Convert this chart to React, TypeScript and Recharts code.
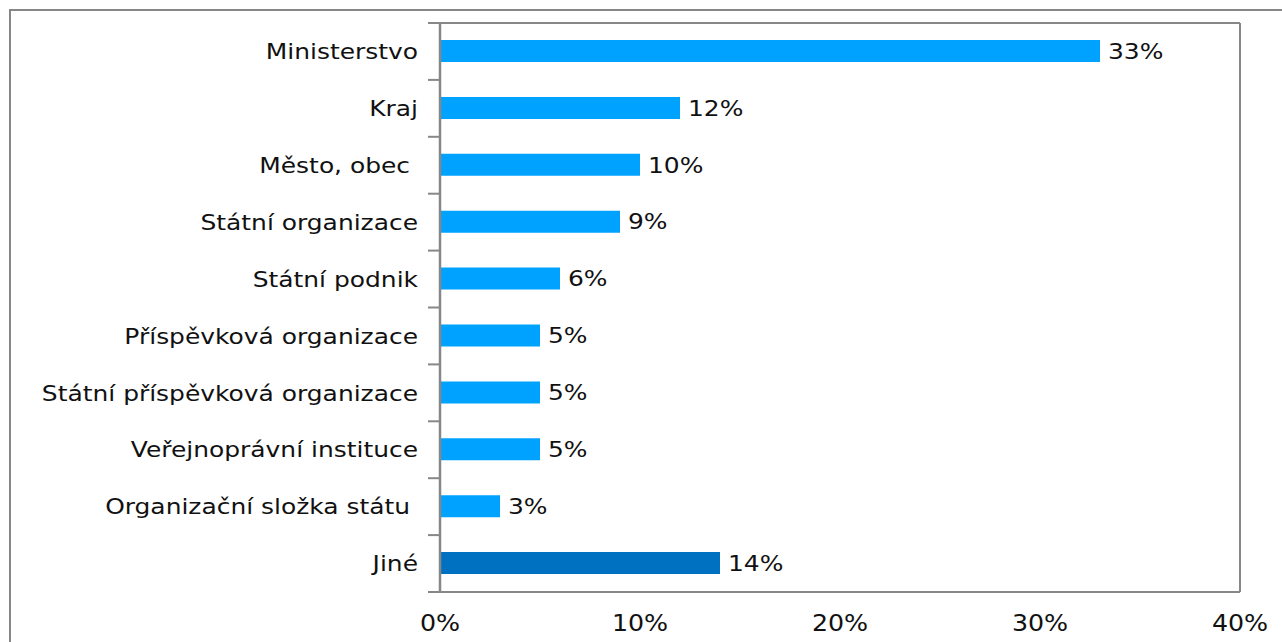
import React from 'react';
import { BarChart, Bar, XAxis, YAxis, Cell, LabelList, CartesianGrid } from 'recharts';

// categories top to bottom, values in percent
const categories = [
  'Ministerstvo',
  'Kraj',
  'Město, obec ',
  'Státní organizace',
  'Státní podnik',
  'Příspěvková organizace',
  'Státní příspěvková organizace',
  'Veřejnoprávní instituce',
  'Organizační složka státu ',
  'Jiné',
];
const values = [33, 12, 10, 9, 6, 5, 5, 5, 3, 14];
const xTicks = [0, 10, 20, 30, 40];

const data = categories.map((name, i) => ({ name, value: values[i] }));

const BAR = '#00a2ff';
const BAR_OTHER = '#0070c0';
const GRID = '#878787';
const FONT = '"DejaVu Sans", Verdana, sans-serif';
const STRETCH = 1.16; // source text looks horizontally stretched
const TICK_SIZE = 12;
const TICK_MARGIN = 10;

const CategoryTick = (props: any) => {
  const { x, y, payload, index } = props;
  const half = payload && payload.offset ? payload.offset : 28.45;
  const axisX = x + TICK_MARGIN + TICK_SIZE;
  return (
    <g>
      <line x1={axisX - TICK_SIZE} x2={axisX} y1={y - half} y2={y - half} stroke={GRID} strokeWidth={2} />
      {index === categories.length - 1 && (
        <line x1={axisX - TICK_SIZE} x2={axisX} y1={y + half} y2={y + half} stroke={GRID} strokeWidth={2} />
      )}
      <text
        transform={`translate(${x},${y}) scale(${STRETCH},1)`}
        textAnchor="end"
        dy="0.36em"
        fontFamily={FONT}
        fontSize={21.5}
        fill="#111"
        style={{ whiteSpace: 'pre' }}
      >
        {payload.value}
      </text>
    </g>
  );
};

const PercentTick = (props: any) => {
  const { x, y, payload } = props;
  return (
    <text
      transform={`translate(${x},${y}) scale(1.1,1)`}
      textAnchor="middle"
      dy="0.36em"
      fontFamily={FONT}
      fontSize={23}
      fill="#111"
    >
      {`${payload.value}%`}
    </text>
  );
};

const ValueLabel = (props: any) => {
  const { x, y, width, height, value } = props;
  return (
    <text
      transform={`translate(${x + width + 8},${y + height / 2}) scale(${STRETCH},1)`}
      dy="0.36em"
      fontFamily={FONT}
      fontSize={21.5}
      fill="#111"
    >
      {`${value}%`}
    </text>
  );
};

const App = () => {
  return (
    <div
      style={{
        position: 'fixed',
        left: 9,
        top: 9,
        width: 1271,
        height: 631,
        borderTop: `2px solid ${GRID}`,
        borderLeft: `2px solid ${GRID}`,
        background: '#fff',
      }}
    >
      <BarChart
        width={1271}
        height={631}
        data={data}
        layout="vertical"
        margin={{ top: 12, right: 41, left: 0, bottom: 0 }}
        barCategoryGap={0}
      >
        {/* top edge of the plot frame */}
        <CartesianGrid
          vertical={false}
          horizontalCoordinatesGenerator={({ offset }: any) => [offset.top]}
          stroke={GRID}
          strokeWidth={2}
          strokeDasharray=""
        />
        <XAxis
          type="number"
          domain={[0, 40]}
          ticks={xTicks}
          tickLine={false}
          tickSize={0}
          tickMargin={31}
          height={50}
          axisLine={{ stroke: GRID, strokeWidth: 2 }}
          tick={<PercentTick />}
          interval={0}
        />
        <YAxis
          type="category"
          dataKey="name"
          width={429}
          tickLine={false}
          tickSize={TICK_SIZE}
          tickMargin={TICK_MARGIN}
          axisLine={{ stroke: GRID, strokeWidth: 2.5 }}
          tick={<CategoryTick />}
          interval={0}
        />
        <YAxis
          yAxisId="right"
          orientation="right"
          type="category"
          dataKey="name"
          width={1}
          tick={false}
          tickLine={false}
          axisLine={{ stroke: GRID, strokeWidth: 2 }}
        />
        <Bar dataKey="value" barSize={22} isAnimationActive={false}>
          {data.map((d, i) => (
            <Cell key={i} fill={d.name === 'Jiné' ? BAR_OTHER : BAR} />
          ))}
          <LabelList dataKey="value" content={<ValueLabel />} />
        </Bar>
      </BarChart>
    </div>
  );
};

export default App;
